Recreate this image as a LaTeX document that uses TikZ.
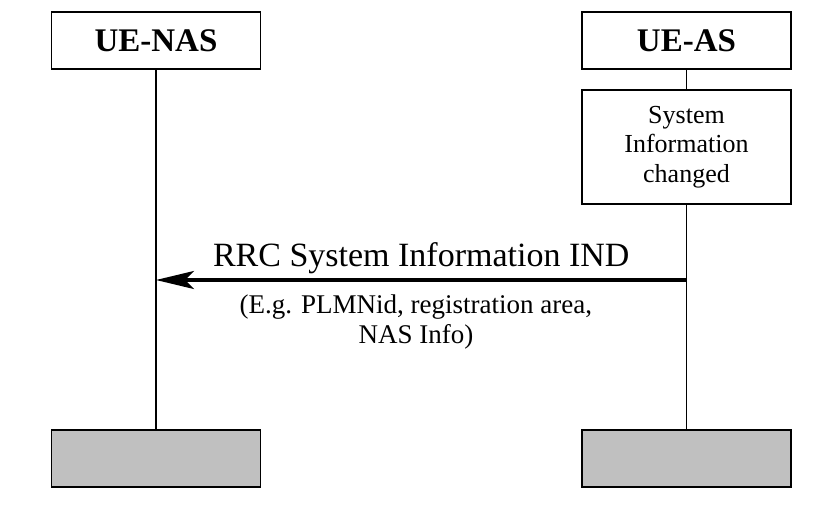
\documentclass[tikz,border=0pt]{standalone}
\usepackage{fontspec}
\setmainfont{Liberation Serif}
\usetikzlibrary{positioning}
\usetikzlibrary{arrows.meta}
\usetikzlibrary{calc}
\definecolor{mygray}{RGB}{192,192,192}
\tikzstyle{entity}=[draw,line width=1.6pt,minimum width=209pt,minimum height=57pt,
                    inner sep=0pt,outer sep=0pt,font=\fontsize{33}{38}\selectfont\bfseries]
\tikzstyle{endbox}=[entity,fill=mygray]
\tikzstyle{actionbox}=[entity,minimum height=114pt,align=center,
                       font=\fontsize{26}{29.5}\selectfont]
\tikzstyle{lifeline}=[line width=1.2pt]
\tikzstyle{msgarrow}=[-{Stealth[length=38pt,width=18pt,inset=9pt]},line width=3.5pt]

\begin{document}
\begin{tikzpicture}[x=1pt,y=-1pt]
  \useasboundingbox (0,0) rectangle (830,506);
  \def\lnas{156} % x of UE-NAS lifeline
  \def\las{686.5} % x of UE-AS lifeline
  \def\ymsg{280} % y of the message

  % UE-NAS
  \node[entity] (nas) at (\lnas,40.5) {UE-NAS};
  \node[endbox] (nasend) at (\lnas,458.5) {};
  \draw[lifeline] (nas) -- (nasend);

  % UE-AS
  \node[entity] (as) at (\las,40.5) {UE-AS};
  \node[actionbox, below=21pt of as] (sysinfo) {System\\Information\\changed};
  \node[endbox] (asend) at (\las,458.5) {};
  \draw[lifeline] (as) -- (sysinfo);
  \draw[lifeline] (sysinfo) -- (asend);

  % message
  \coordinate (asmsg) at (\las,\ymsg);
  \coordinate (nasmsg) at (\lnas,\ymsg);
  \draw[msgarrow] (asmsg) -- (nasmsg);
  \node[font=\fontsize{34}{38}\selectfont, above=3pt] (msg) at ($(asmsg)!0.5!(nasmsg)$)
    {RRC System Information IND};
  \node[font=\fontsize{27}{30}\selectfont, align=center, below=11pt] (msginfo)
    at ($(asmsg)!0.51!(nasmsg)$)
    {(E.g. PLMNid, registration area,\\NAS Info)};
\end{tikzpicture}
\end{document}
